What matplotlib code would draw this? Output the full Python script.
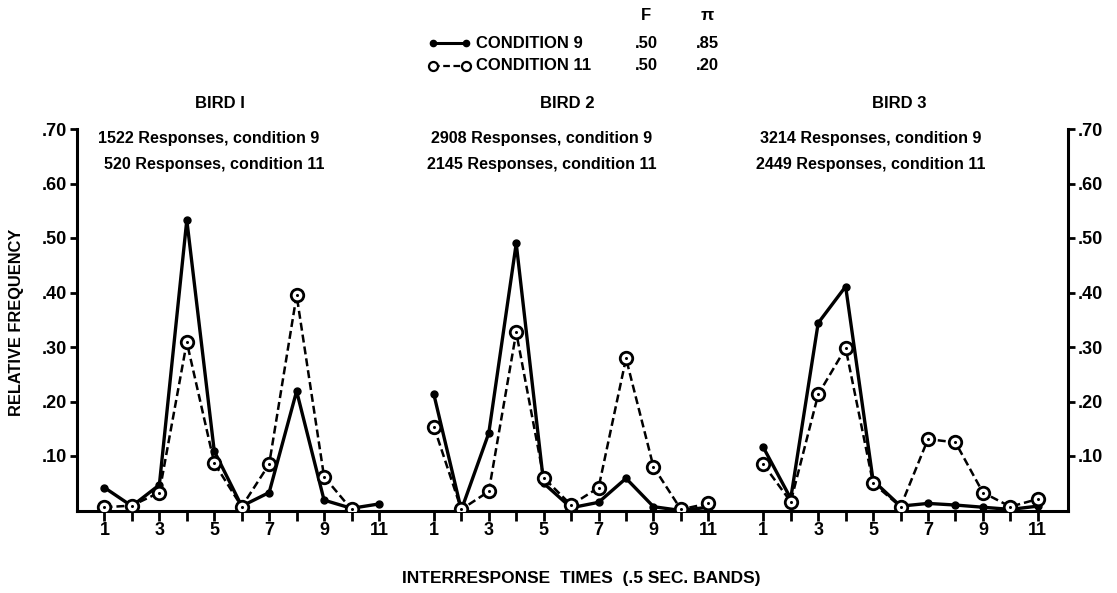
import numpy as np
import matplotlib
matplotlib.use("Agg")
import matplotlib.pyplot as plt
from matplotlib.lines import Line2D

plt.rcParams['font.family'] = ['Liberation Sans', 'DejaVu Sans']
plt.rcParams['font.weight'] = 'bold'

bands = list(range(1, 12))
birds = ["BIRD I", "BIRD 2", "BIRD 3"]
resp_c9 = ["1522 Responses, condition 9", "2908 Responses, condition 9", "3214 Responses, condition 9"]
resp_c11 = ["520 Responses, condition 11", "2145 Responses, condition 11", "2449 Responses, condition 11"]

bird1_c9 = [0.042, 0.008, 0.047, 0.533, 0.109, 0.008, 0.033, 0.219, 0.019, 0.004, 0.012]
bird1_c11 = [0.006, 0.009, 0.033, 0.309, 0.087, 0.007, 0.085, 0.395, 0.062, 0.002, np.nan]
bird2_c9 = [0.213, 0.001, 0.142, 0.490, 0.050, 0.005, 0.015, 0.059, 0.007, 0.000, 0.006]
bird2_c11 = [0.154, 0.002, 0.035, 0.327, 0.060, 0.010, 0.042, 0.279, 0.080, 0.002, 0.013]
bird3_c9 = [0.116, 0.022, 0.344, 0.411, 0.055, 0.008, 0.013, 0.010, 0.006, 0.002, 0.008]
bird3_c11 = [0.085, 0.016, 0.213, 0.298, 0.050, 0.007, 0.131, 0.125, 0.033, 0.007, 0.021]

c9_series = [bird1_c9, bird2_c9, bird3_c9]
c11_series = [bird1_c11, bird2_c11, bird3_c11]

yticks = [0.10, 0.20, 0.30, 0.40, 0.50, 0.60, 0.70]
ytick_labels = [".10", ".20", ".30", ".40", ".50", ".60", ".70"]

W, H = 1117, 593
fig = plt.figure(figsize=(W / 100, H / 100), dpi=100)
ax_l, ax_r, ax_b, ax_t = 77, 1068, 510.5, 129
ax = fig.add_axes([ax_l / W, 1 - ax_b / H, (ax_r - ax_l) / W, (ax_b - ax_t) / H])
ax.set_xlim(0, 36.1)
ax.set_ylim(0, 0.70)

offset = 12
for i in range(3):
    x = np.array(bands) + offset * i
    ax.plot(x, c11_series[i], color='black', lw=1.8, ls=(0, (3.2, 1.6)), zorder=2)
    ax.plot(x, c11_series[i], ls='none', marker='o', ms=9, mfc='white', mec='black', mew=2.0, zorder=4)
    ax.plot(x, c11_series[i], ls='none', marker='o', ms=2.2, mfc='black', mec='black', mew=0, zorder=5)
    ax.plot(x, c9_series[i], color='black', lw=2.4, marker='o', ms=5, mfc='black', mec='black', zorder=3)

ax.spines['top'].set_visible(False)
for s in ['left', 'right', 'bottom']:
    ax.spines[s].set_linewidth(2.2)

ax.set_yticks(yticks)
ax.set_yticklabels(ytick_labels)
ax.tick_params(axis='y', which='both', left=True, right=True, labelleft=True, labelright=True,
               direction='out', length=5, width=2, labelsize=13, pad=2)

xt = []
xl = []
for i in range(3):
    for b in bands:
        xt.append(b + offset * i)
        xl.append(str(b) if b % 2 == 1 else "")
ax.set_xticks(xt)
ax.set_xticklabels(xl)
ax.tick_params(axis='x', direction='out', length=7, width=2, labelsize=13, pad=1)

# titles and annotations
bird_x = [220, 567, 899]
resp1_x = [209, 542, 871]
resp2_x = [214, 542, 871]
for i in range(3):
    fig.text(bird_x[i] / W, 1 - 104 / H, birds[i], ha='center', va='center', fontsize=12, fontweight='bold')
    fig.text(resp1_x[i] / W, 1 - 138 / H, resp_c9[i], ha='center', va='center', fontsize=11.6, fontweight='bold')
    fig.text(resp2_x[i] / W, 1 - 165 / H, resp_c11[i], ha='center', va='center', fontsize=11.6, fontweight='bold')

fig.text(17 / W, 1 - 322 / H, "RELATIVE FREQUENCY", rotation=90, ha='center', va='center', fontsize=11.8, fontweight='bold')
fig.text(581 / W, 1 - 578 / H, "INTERRESPONSE  TIMES  (.5 SEC. BANDS)", ha='center', va='center', fontsize=12.5, fontweight='bold')

# legend
leg_rows = [("CONDITION 9", ".50", ".85", 43), ("CONDITION 11", ".50", ".20", 66)]
fig.text(646 / W, 1 - 15 / H, "F", ha='center', va='center', fontsize=12, fontweight='bold')
fig.text(707 / W, 1 - 15 / H, "π", ha='center', va='center', fontsize=12.5, fontweight='bold')
for j, (name, f, p, yy) in enumerate(leg_rows):
    yf = 1 - yy / H
    if j == 0:
        fig.add_artist(Line2D([433 / W, 466 / W], [yf, yf], color='black', lw=2.2, marker='o', ms=4.5,
                              mfc='black', transform=fig.transFigure))
    else:
        fig.add_artist(Line2D([433 / W, 466 / W], [yf, yf], color='black', lw=1.6, ls=(0, (3, 1.6)),
                              transform=fig.transFigure))
        fig.add_artist(Line2D([433 / W, 466 / W], [yf, yf], ls='none', marker='o', ms=6.5, mfc='white',
                              mec='black', mew=1.6, transform=fig.transFigure))
    fig.text(476 / W, yf, name, ha='left', va='center', fontsize=12, fontweight='bold')
    fig.text(646 / W, yf, f, ha='center', va='center', fontsize=12, fontweight='bold')
    fig.text(707 / W, yf, p, ha='center', va='center', fontsize=12, fontweight='bold')

fig.savefig("out.png", dpi=100)
